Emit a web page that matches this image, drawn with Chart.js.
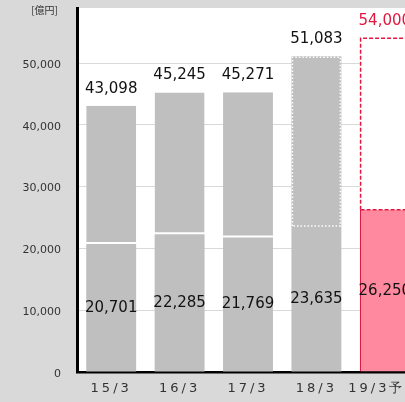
<!DOCTYPE html>
<html>
<head>
<meta charset="utf-8">
<script src="https://cdn.jsdelivr.net/npm/chart.js@4"></script>
<style>
html,body{margin:0;padding:0;background:#d9d9d9;overflow:hidden;width:405px;height:402px}
#wrap{width:419px;height:402px}
</style>
</head>
<body>
<div id="wrap"><canvas id="c" width="419" height="402"></canvas></div>
<script>
/* DATA */
const categories=['15/3','16/3','17/3','18/3','19/3予想'];
const totals=[43098,45245,45271,51083,54000];
const lowerVals=[20701,22285,21769,23635,26250];
const yTicks=[0,10000,20000,30000,40000,50000];
const yMax=58900;

const GRAY='#bfbfbf',PINK='#ff8aa0',RED='#e3163f';
const fmt=v=>v.toLocaleString('en-US');

/* PLUGINS */
const bgPlugin={id:'bg',beforeDraw(c){
  const {ctx,chartArea:a}=c;
  ctx.save();
  ctx.fillStyle='#d9d9d9';ctx.fillRect(0,0,c.width,c.height);
  ctx.fillStyle='#fff';ctx.fillRect(a.left,a.top,a.right-a.left,a.bottom-a.top);
  ctx.restore();
}};

const outlinePlugin={id:'outline',afterDatasetsDraw(c){
  const ctx=c.ctx;
  const up=c.getDatasetMeta(1).data;
  ctx.save();
  // 18/3: dotted white outline on upper part
  let u=up[3].getProps(['x','y','base','width'],true);
  let l=u.x-u.width/2+1,r=u.x+u.width/2-1;
  ctx.strokeStyle='#fff';ctx.lineWidth=1.5;ctx.setLineDash([1.5,2]);
  ctx.beginPath();ctx.moveTo(l,u.base);ctx.lineTo(l,u.y+1);ctx.lineTo(r,u.y+1);ctx.lineTo(r,u.base);ctx.lineTo(l,u.base);ctx.stroke();
  // 19/3: dashed red outline for forecast
  u=up[4].getProps(['x','y','base','width'],true);
  l=u.x-u.width/2+0.75;r=u.x+u.width/2-0.75;
  ctx.strokeStyle=RED;ctx.lineWidth=1.5;ctx.setLineDash([4,2]);
  ctx.beginPath();ctx.moveTo(l,u.base);ctx.lineTo(l,u.y);ctx.lineTo(r,u.y);ctx.lineTo(r,u.base);ctx.stroke();
  ctx.beginPath();ctx.moveTo(l,u.base);ctx.lineTo(r,u.base);ctx.stroke();
  ctx.restore();
}};

const labelPlugin={id:'labels',afterDatasetsDraw(c){
  const ctx=c.ctx,a=c.chartArea;
  const low=c.getDatasetMeta(0).data,up=c.getDatasetMeta(1).data;
  ctx.save();
  ctx.font='15px "DejaVu Sans"';ctx.textAlign='center';
  categories.forEach((_,i)=>{
    const u=up[i].getProps(['x','y'],true);
    const b=low[i].getProps(['x','y','base'],true);
    ctx.fillStyle=i===4?RED:'#111';
    ctx.textBaseline='alphabetic';
    ctx.fillText(fmt(totals[i]),u.x,u.y-13);
    ctx.fillStyle='#111';
    ctx.textBaseline='middle';
    ctx.fillText(fmt(lowerVals[i]),b.x,(b.y+b.base)/2);
  });
  // x labels
  const xs=c.scales.x;
  ctx.font='13px "DejaVu Sans"';ctx.fillStyle='#333';ctx.textBaseline='middle';
  ctx.letterSpacing='3px';
  categories.forEach((t,i)=>ctx.fillText(t,xs.getPixelForValue(i),a.bottom+17));
  ctx.letterSpacing='0px';
  // unit
  ctx.font='10px "Noto Sans CJK JP"';ctx.textAlign='right';ctx.fillStyle='#333';
  ctx.fillText('[億円]',a.left-19,a.top+2);
  ctx.restore();
}};

/* CHART */
new Chart(document.getElementById('c'),{
  type:'bar',
  data:{labels:categories,datasets:[
    {data:lowerVals,backgroundColor:lowerVals.map((_,i)=>i===4?PINK:GRAY),
     borderColor:RED,borderSkipped:false,
     borderWidth:ctx=>ctx.dataIndex===4?{top:0,bottom:0,left:1.5,right:1.5}:0},
    {data:lowerVals.map((v,i)=>[v,totals[i]]),backgroundColor:totals.map((_,i)=>i===4?'#fff':GRAY),
     borderColor:'#fff',borderSkipped:false,
     borderWidth:ctx=>ctx.dataIndex<3?{top:0,bottom:2,left:0,right:0}:0}
  ]},
  options:{
    responsive:false,animation:false,devicePixelRatio:1,
    barPercentage:0.73,categoryPercentage:1,
    layout:{padding:{top:8,left:0,right:0,bottom:0}},
    plugins:{legend:{display:false},tooltip:{enabled:false}},
    scales:{
      x:{stacked:true,grid:{display:false,drawTicks:false},border:{color:'#000',width:2.5},
         ticks:{display:false},afterFit(s){s.height=30;}},
      y:{min:0,max:yMax,grid:{color:'#d9d9d9',drawTicks:true,tickLength:15,tickColor:'rgba(0,0,0,0)'},border:{color:'#000',width:3},
         ticks:{padding:1,color:'#333',font:{family:'DejaVu Sans',size:11},labelOffset:2,
                callback:v=>fmt(v)},
         afterBuildTicks(s){s.ticks=yTicks.map(v=>({value:v}));},
         afterFit(s){s.width=77;}}
    }
  },
  plugins:[bgPlugin,outlinePlugin,labelPlugin]
});
</script>
</body>
</html>
